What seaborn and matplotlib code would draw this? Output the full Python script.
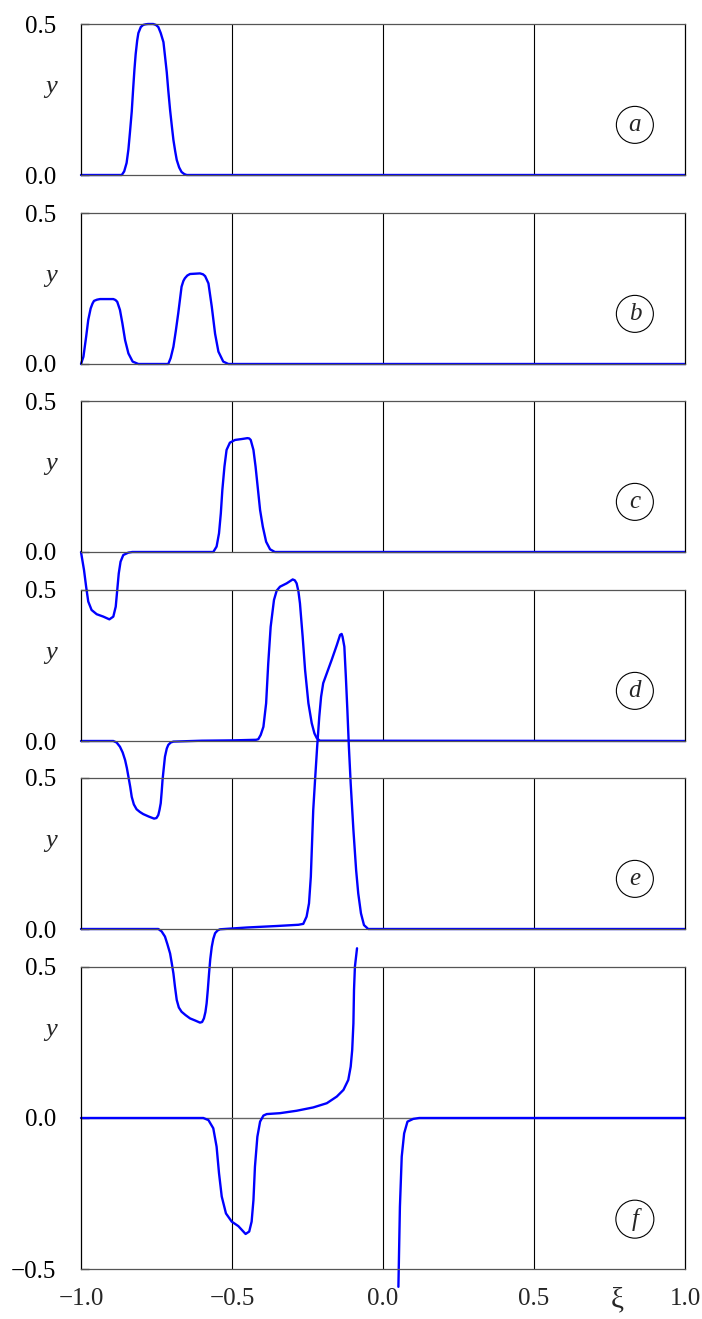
import matplotlib
matplotlib.use('Agg')
import matplotlib.pyplot as plt
import seaborn as sns

# curve values (xi, y) for panels a-f
xi_a = [
    -1.0, -0.865, -0.857, -0.849, -0.843, -0.838, -0.832, -0.827,
    -0.823, -0.819, -0.814, -0.810, -0.802, -0.794, -0.786, -0.778,
    -0.769, -0.761, -0.752, -0.744, -0.736, -0.727, -0.722, -0.716,
    -0.711, -0.705, -0.699, -0.694, -0.688, -0.683, -0.675, -0.667,
    -0.658, -0.650, 1.0]
y_a = [
    0.0, 0.0, 0.012, 0.04, 0.085, 0.14, 0.21, 0.29,
    0.35, 0.40, 0.445, 0.47, 0.49, 0.497, 0.499, 0.5,
    0.5, 0.5, 0.497, 0.49, 0.47, 0.44, 0.395, 0.34,
    0.28, 0.215, 0.16, 0.116, 0.078, 0.05, 0.025, 0.01,
    0.003, 0.0, 0.0]

xi_b = [
    -1.0, -0.992, -0.983, -0.976, -0.968, -0.962, -0.957, -0.947,
    -0.937, -0.893, -0.886, -0.880, -0.871, -0.863, -0.854, -0.843,
    -0.829, -0.810, -0.711, -0.703, -0.694, -0.686, -0.678, -0.667,
    -0.661, -0.656, -0.648, -0.639, -0.606, -0.596, -0.589, -0.578,
    -0.567, -0.556, -0.545, -0.529, -0.512, 1.0]
y_b = [
    0.0, 0.024, 0.09, 0.146, 0.184, 0.2, 0.209, 0.213,
    0.215, 0.215, 0.212, 0.206, 0.179, 0.135, 0.079, 0.035,
    0.008, 0.0, 0.0, 0.02, 0.057, 0.11, 0.168, 0.256,
    0.275, 0.284, 0.293, 0.298, 0.30, 0.297, 0.291, 0.267,
    0.19, 0.10, 0.041, 0.008, 0.0, 0.0]

xi_c = [
    -1.0, -0.990, -0.983, -0.976, -0.965, -0.948, -0.926, -0.906,
    -0.893, -0.885, -0.880, -0.875, -0.869, -0.860, -0.843, -0.830,
    -0.562, -0.551, -0.543, -0.537, -0.532, -0.525, -0.518, -0.507,
    -0.490, -0.468, -0.449, -0.443, -0.438, -0.429, -0.422, -0.415,
    -0.407, -0.398, -0.387, -0.374, -0.358, 1.0]
y_c = [
    0.0, -0.060, -0.115, -0.164, -0.192, -0.206, -0.214, -0.223,
    -0.214, -0.181, -0.126, -0.071, -0.032, -0.010, -0.002, 0.0,
    0.0, 0.018, 0.062, 0.128, 0.205, 0.283, 0.338, 0.362,
    0.371, 0.374, 0.377, 0.376, 0.371, 0.338, 0.283, 0.216,
    0.139, 0.084, 0.034, 0.009, 0.0, 0.0]

xi_d = [
    -1.0, -0.893, -0.882, -0.871, -0.862, -0.854, -0.848, -0.843,
    -0.837, -0.832, -0.825, -0.816, -0.805, -0.794, -0.776, -0.758,
    -0.750, -0.744, -0.740, -0.736, -0.733, -0.730, -0.726, -0.722,
    -0.716, -0.711, -0.703, -0.694, -0.60, -0.50, -0.42, -0.413,
    -0.405, -0.396, -0.387, -0.380, -0.372, -0.361, -0.352, -0.341,
    -0.319, -0.299, -0.292, -0.286, -0.280, -0.275, -0.266, -0.258,
    -0.247, -0.236, -0.227, -0.219, -0.209, 1.0]
y_d = [
    0.0, 0.0, -0.005, -0.019, -0.038, -0.063, -0.09, -0.118,
    -0.152, -0.185, -0.21, -0.226, -0.235, -0.242, -0.25, -0.257,
    -0.255, -0.245, -0.228, -0.206, -0.17, -0.129, -0.09, -0.052,
    -0.025, -0.013, -0.005, -0.002, 0.001, 0.002, 0.004, 0.006,
    0.02, 0.047, 0.125, 0.257, 0.378, 0.467, 0.498, 0.511,
    0.522, 0.535, 0.532, 0.522, 0.495, 0.456, 0.345, 0.235,
    0.125, 0.059, 0.025, 0.009, 0.001, 0.0]

xi_e = [
    -1.0, -0.744, -0.733, -0.722, -0.714, -0.705, -0.700, -0.694,
    -0.689, -0.683, -0.676, -0.667, -0.654, -0.639, -0.622, -0.606,
    -0.599, -0.593, -0.588, -0.584, -0.580, -0.576, -0.572, -0.567,
    -0.562, -0.556, -0.548, -0.540, -0.45, -0.35, -0.28, -0.264,
    -0.253, -0.245, -0.239, -0.235, -0.231, -0.225, -0.218, -0.211,
    -0.205, -0.198, -0.186, -0.170, -0.153, -0.142, -0.137, -0.134,
    -0.128, -0.123, -0.118, -0.113, -0.107, -0.098, -0.089, -0.082,
    -0.073, -0.063, -0.049, 1.0]
y_e = [
    0.0, 0.0, -0.008, -0.025, -0.05, -0.081, -0.11, -0.147,
    -0.19, -0.235, -0.26, -0.274, -0.285, -0.296, -0.303, -0.310,
    -0.308, -0.296, -0.275, -0.246, -0.20, -0.147, -0.10, -0.059,
    -0.033, -0.014, -0.005, -0.001, 0.005, 0.01, 0.014, 0.017,
    0.041, 0.085, 0.173, 0.284, 0.394, 0.493, 0.604, 0.703,
    0.769, 0.814, 0.847, 0.891, 0.940, 0.974, 0.977, 0.968,
    0.935, 0.835, 0.725, 0.604, 0.482, 0.328, 0.195, 0.118,
    0.052, 0.013, 0.0, 0.0]

# panel f has a singularity, so two pieces
xi_f1 = [
    -1.0, -0.595, -0.578, -0.562, -0.551, -0.543, -0.534, -0.520,
    -0.501, -0.479, -0.455, -0.443, -0.435, -0.429, -0.424, -0.416,
    -0.407, -0.396, -0.385, -0.341, -0.286, -0.231, -0.186, -0.153,
    -0.131, -0.115, -0.107, -0.102, -0.098, -0.096, -0.093, -0.086]
y_f1 = [
    0.0, 0.0, -0.007, -0.034, -0.095, -0.183, -0.26, -0.316,
    -0.343, -0.358, -0.384, -0.376, -0.343, -0.272, -0.161, -0.062,
    -0.012, 0.008, 0.013, 0.016, 0.024, 0.035, 0.049, 0.071,
    0.093, 0.126, 0.170, 0.225, 0.313, 0.424, 0.501, 0.562]
xi_f2 = [0.051, 0.056, 0.062, 0.070, 0.081, 0.100, 0.120, 1.0]
y_f2 = [-0.559, -0.294, -0.128, -0.051, -0.012, -0.003, 0.0, 0.0]

panel_names = ['a', 'b', 'c', 'd', 'e', 'f']
x_ticks = [-1.0, -0.5, 0.0, 0.5, 1.0]
grid_x = [-0.5, 0.0, 0.5]

sns.set_theme(style='white')
plt.rcParams['font.family'] = ['Liberation Serif', 'DejaVu Serif']

W, H = 702, 1319
fig = plt.figure(figsize=(W / 100, H / 100), dpi=100)

curves = {
    'a': [(xi_a, y_a)],
    'b': [(xi_b, y_b)],
    'c': [(xi_c, y_c)],
    'd': [(xi_d, y_d)],
    'e': [(xi_e, y_e)],
    'f': [(xi_f1, y_f1), (xi_f2, y_f2)],
}
# panel boxes in pixels (top, bottom)
tops = [24, 213, 401, 590, 778, 967]
bottoms = [175, 364, 552, 741, 929, 1269]


def fmt(v):
    return f'{v:.1f}'.replace('-', '\u2212')


for i, name in enumerate(panel_names):
    top, bot = tops[i], bottoms[i]
    ax = fig.add_axes([81 / W, 1 - bot / H, 604 / W, (bot - top) / H])
    ax.patch.set_visible(False)
    last = name == 'f'
    ax.set_xlim(-1, 1)
    ax.set_ylim(-0.5 if last else 0.0, 0.5)

    for gx in grid_x:
        ax.axvline(gx, color='black', lw=0.8, zorder=1)
    if last:
        ax.axhline(0, color='#666666', lw=1.0, zorder=1)

    for xs, ys in curves[name]:
        sns.lineplot(x=xs, y=ys, ax=ax, color='#0000ff', lw=1.7,
                     sort=False, estimator=None)
    for ln in ax.lines:
        ln.set_clip_on(False)

    for side, sp in ax.spines.items():
        sp.set_visible(True)
        sp.set_linewidth(0.9)
        sp.set_color('black' if side in ('left', 'right') else '#555555')

    yt = [-0.5, 0.0, 0.5] if last else [0.0, 0.5]
    ax.set_yticks(yt)
    ax.set_yticklabels([fmt(v) for v in yt])
    ax.tick_params(axis='y', direction='in', length=6, width=0.9,
                   pad=18, labelsize=18, left=True, colors='black')
    ax.set_xticks(x_ticks)
    if last:
        ax.set_xticklabels([fmt(v) for v in x_ticks])
        ax.tick_params(axis='x', direction='in', length=0, pad=14,
                       labelsize=18)
        ax.annotate('\u03be', xy=(0.775, 0), xycoords=('data', 'axes fraction'),
                    xytext=(0, -13), textcoords='offset points',
                    ha='center', va='top', fontsize=21)
    else:
        ax.tick_params(axis='x', length=0, labelbottom=False)
    ax.set_xlabel('')
    ax.set_ylabel('')

    ax.text(-1.1, 0.29, 'y', style='italic', fontsize=19,
            ha='center', va='center', clip_on=False)
    ax.text(0.834, -0.335 if last else 0.166, name, style='italic',
            fontsize=18, ha='center', va='center',
            bbox=dict(boxstyle='circle,pad=0.3', fc='none', ec='black', lw=0.8))

fig.savefig('out.png', dpi=100)
